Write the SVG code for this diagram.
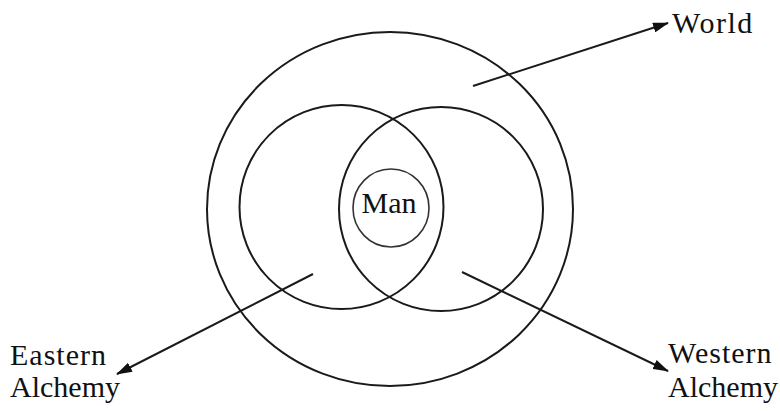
<svg xmlns="http://www.w3.org/2000/svg" width="780" height="411" viewBox="0 0 780 411">
<style>
.c{fill:none;stroke:#1a1a1a;stroke-width:2}
.s{fill:none;stroke:#333;stroke-width:1.6}
.a{fill:none;stroke:#1a1a1a;stroke-width:2}
text{font-family:"Liberation Serif","Times New Roman",serif;font-size:30px;fill:#111}
</style>
<defs>
<marker id="ah" viewBox="0 0 16 10" refX="15" refY="5" markerWidth="16" markerHeight="10" markerUnits="userSpaceOnUse" orient="auto">
<path d="M0,0 L16,5 L0,10 Z" fill="#111"/>
</marker>
</defs>
<g id="world"><ellipse class="c" cx="390" cy="209" rx="183" ry="177"/></g>
<g id="eastern"><circle class="c" cx="341.5" cy="207" r="102"/></g>
<g id="western"><circle class="c" cx="441" cy="209" r="102"/></g>
<g id="man"><ellipse class="s" cx="391" cy="208" rx="38" ry="39"/><text x="389" y="213" text-anchor="middle" font-size="29">Man</text></g>
<g id="connectors">
<line class="a" x1="473" y1="86" x2="668" y2="23" marker-end="url(#ah)"/>
<line class="a" x1="313" y1="274" x2="117" y2="374" marker-end="url(#ah)"/>
<line class="a" x1="462" y1="272" x2="668" y2="371" marker-end="url(#ah)"/>
</g>
<g id="labels">
<text x="672" y="33" letter-spacing="1.5">World</text>
<text x="10" y="365" letter-spacing="1">Eastern</text>
<text x="10" y="397">Alchemy</text>
<text x="668" y="363" letter-spacing="1">Western</text>
<text x="668" y="397">Alchemy</text>
</g>
</svg>
